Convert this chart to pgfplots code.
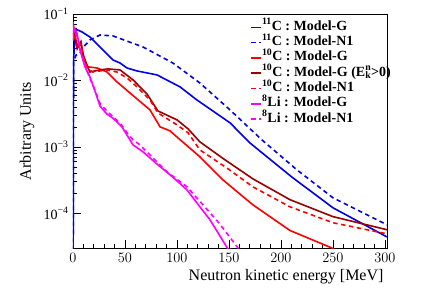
\documentclass[border=0pt]{standalone}
\usepackage{fontspec}
\setmainfont{Liberation Serif}
\usepackage{pgfplots}
\pgfplotsset{compat=1.18}
\definecolor{rblue}{RGB}{0,0,230}
\definecolor{rred}{RGB}{255,0,0}
\definecolor{rdred}{RGB}{153,0,0}
\definecolor{rmag}{RGB}{255,0,255}
\begin{document}
\begin{tikzpicture}
\begin{axis}[
  scale only axis, width=314pt, height=234pt,
  xmin=0, xmax=302, ymode=log, ymin=3e-5, ymax=0.1,
  axis line style={line width=0.8pt},
  xtick={0,50,100,150,200,250,300}, minor x tick num=4,
  ytick={1e-4,1e-3,1e-2,1e-1},
  yticklabels={10\textsuperscript{−4},10\textsuperscript{−3},10\textsuperscript{−2},10\textsuperscript{−1}},
  tick align=inside, xtick pos=bottom, ytick pos=left,
  major tick length=8pt, minor tick length=4pt,
  tick style={black, line width=0.6pt},
  ticklabel style={font=\fontsize{14}{14}\selectfont},
  xticklabel style={yshift=-2pt},
  yticklabel style={xshift=-1pt},
  xlabel={Neutron kinetic energy [MeV]},
  xlabel style={font=\fontsize{16}{16}\selectfont, at={(axis description cs:1,-0.137)}, anchor=base east},
  ylabel={Arbitrary Units},
  ylabel style={font=\fontsize{16}{16}\selectfont, at={(axis description cs:-0.134,0.5)}, anchor=base},
  every axis plot/.append style={line width=1.6pt},
  legend cell align=left,
  legend image code/.code={\draw[#1, line width=1.6pt] (0pt,0pt) -- (10pt,0pt);},
  legend style={draw=none, fill=none, at={(axis description cs:0.555,0.985)}, anchor=north west,
    font=\bfseries\fontsize{14}{14}\selectfont,
    nodes={inner sep=0pt, text height=10.5pt, text depth=4.8pt},
    /tikz/every even column/.append style={column sep=2pt}},
]
% 11C Model-G
\addplot[rblue] coordinates {(0,1e-6) (0.5,0.02) (1.5,0.035) (2.9,0.059) (8.7,0.0536) (16.3,0.045) (28.8,0.0288) (38.5,0.0203) (45.2,0.0183) (51.9,0.0154) (61.5,0.0139) (80.8,0.0121) (102.9,0.0080) (119,0.0051) (151,0.0023) (170,0.00115) (210.6,3.5e-4) (250,1.21e-4) (302,4.4e-5)};
\addlegendentry{\textsuperscript{11}C : Model-G}
% 11C Model-N1
\addplot[rblue, dash pattern=on 4.5pt off 3.5pt] coordinates {(0,1e-6) (0.5,0.019) (2.9,0.024) (6.7,0.026) (11,0.033) (16.3,0.0407) (26,0.0483) (38.5,0.0467) (67.3,0.0319) (96,0.0183) (122,0.00916) (151,0.0036) (181.7,0.00127) (215.4,4.5e-4) (250,1.71e-4) (302,6.7e-5)};
\addlegendentry{\textsuperscript{11}C : Model-N1}
% 10C Model-G
\addplot[rred] coordinates {(0,0.076) (1.9,0.045) (4.8,0.032) (7.7,0.038) (9.6,0.0218) (14.4,0.016) (23,0.0154) (32.7,0.0134) (42.3,0.0095) (56.7,0.0061) (74,0.0036) (83.7,0.0020) (93.3,0.00174) (101,0.00136) (122,7.1e-4) (144,3.2e-4) (173,1.34e-4) (208.7,5.5e-5) (249,3.0e-5) (260,2.2e-5)};
\addlegendentry{\textsuperscript{10}C : Model-G}
% 10C Model-G Ek>0
\addplot[rdred] coordinates {(0,0.05) (1,0.05) (4,0.03) (7.5,0.038) (10,0.024) (14,0.016) (16.3,0.0134) (26,0.0144) (33.7,0.0149) (45.2,0.0144) (57.7,0.0102) (71,0.0063) (81.7,0.00347) (100,0.00255) (110.6,0.00187) (122,0.00119) (146,6.4e-4) (173,3.3e-4) (208.7,1.6e-4) (250,8.9e-5) (302,5.65e-5)};
\addlegendentry{\textsuperscript{10}C : Model-G (E\rlap{\textsuperscript{n}}\textsubscript{k}>0)}
% 10C Model-N1
\addplot[rred, dash pattern=on 4.5pt off 3.5pt] coordinates {(0,0.04) (2,0.05) (4,0.03) (7.5,0.035) (10,0.022) (14,0.015) (19,0.0134) (32.7,0.0144) (42,0.0134) (52,0.0109) (61.5,0.0080) (74,0.0051) (81.7,0.00324) (100,0.00214) (110.6,0.00163) (122,9.0e-4) (148,4.8e-4) (173,2.5e-4) (208.7,1.25e-4) (250,7.2e-5) (302,4.9e-5)};
\addlegendentry{\textsuperscript{10}C : Model-N1}
% 8Li Model-G
\addplot[rmag] coordinates {(0,0.045) (1,0.062) (3.8,0.052) (6.7,0.0288) (11.5,0.016) (16.3,0.0113) (21,0.0070) (26,0.0041) (32.7,0.0031) (38.5,0.0027) (47,0.0020) (54.8,0.00127) (57.7,0.00107) (67.3,8.4e-4) (80.8,5.5e-4) (96,3.5e-4) (109.6,2.25e-4) (122,1.25e-4) (131.7,8e-5) (149,2.9e-5) (155,2.2e-5)};
\addlegendentry{\textsuperscript{8}Li : Model-G}
% 8Li Model-N1
\addplot[rmag, dash pattern=on 4.5pt off 3.5pt] coordinates {(0,0.04) (1,0.06) (4,0.045) (7,0.03) (11.5,0.017) (16,0.011) (21,0.0072) (26,0.0045) (33,0.0034) (39,0.0028) (47,0.0021) (52,0.00163) (57.7,0.00127) (64.4,0.00107) (77,6.8e-4) (90.4,4.2e-4) (109.6,2.5e-4) (125,1.34e-4) (141,6.95e-5) (158.7,3.0e-5) (165,2.2e-5)};
\addlegendentry{\textsuperscript{8}Li : Model-N1}
\end{axis}
\pgfresetboundingbox
\path ([shift={(-73pt,-48pt)}]current axis.south west) rectangle ([shift={(49pt,14pt)}]current axis.north east);
\end{tikzpicture}
\end{document}
